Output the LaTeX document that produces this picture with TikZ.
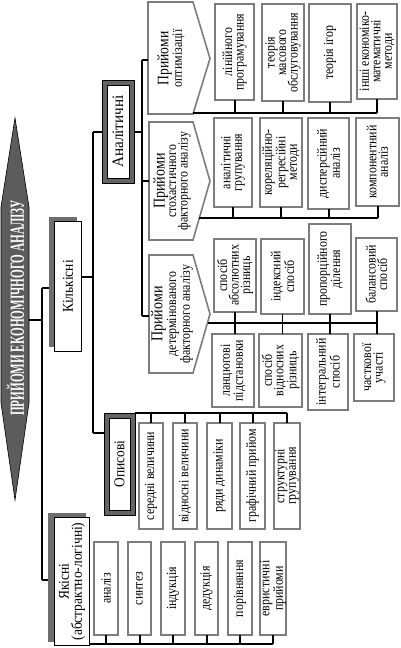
\documentclass[tikz,border=0pt]{standalone}
\usepackage{fontspec}
\setmainfont{Liberation Serif}
\definecolor{bgray}{RGB}{125,125,125}
\definecolor{fgray}{RGB}{100,100,100}
\definecolor{sgray}{RGB}{110,110,110}
\definecolor{tgray}{RGB}{92,92,92}
\newcommand{\mkbox}[7][]{%
 \pgfmathsetmacro{\mbcx}{(#3+#5)/2}%
 \pgfmathsetmacro{\mbcy}{(#4+#6)/2}%
 \pgfmathsetmacro{\mbw}{#5-#3-1.8}%
 \pgfmathsetmacro{\mbh}{#6-#4-1.8}%
 \node[gb, minimum width=\mbw pt, minimum height=\mbh pt] (#2) at (\mbcx,\mbcy) {};%
 \node[txt,#1] (#2t) at (#2.center) {#7};%
}
\begin{document}
\begin{tikzpicture}[x=1pt,y=-1pt,
 gb/.style={draw=bgray, line width=1.8pt, fill=white, inner sep=0pt, outer sep=0pt},
 ab/.style={draw=bgray, line width=1.6pt, fill=white, line join=miter},
 txt/.style={rotate=90, xscale=0.85, align=center, inner sep=0pt, font=\fontsize{14}{11.5}\selectfont},
 htxt/.style={rotate=90, xscale=0.9, align=center, inner sep=0pt, font=\fontsize{15}{13}\selectfont},
 ttl/.style={rotate=90, xscale=0.56, inner sep=0pt, text=white, font=\bfseries\fontsize{20}{20}\selectfont},
 cn/.style={line width=1.2pt},
 ck/.style={line width=2pt},
 ]
\useasboundingbox (0,0) rectangle (401,648);
\fill[white] (0,0) rectangle (401,648);

% title
\filldraw[fill=tgray, draw=black, line width=0.6pt] (15,118) -- (29,207) -- (29,403) -- (15,500) -- (1,403) -- (1,207) -- cycle;
\node[ttl] (title) at (15.5,308) {ПРИЙОМИ ЕКОНОМІЧНОГО АНАЛІЗУ};
\coordinate (titleR) at (29,320);
\coordinate (j1) at (42,320);
\coordinate (v1t) at (42,288);
\coordinate (v1b) at (42,580);

% Кількісні
\node[fill=sgray, minimum width=28pt, minimum height=130pt, inner sep=0pt, outer sep=0pt] (kils) at (63,282) {};
\node[fill=white, draw=black, line width=1.2pt, minimum width=26.8pt, minimum height=129.8pt, inner sep=0pt, outer sep=0pt] (kil) at (68,286.5) {};
\node[htxt] (kilt) at (kil.center) {Кількісні};

% Якісні
\node[fill=sgray, minimum width=38pt, minimum height=129pt, inner sep=0pt, outer sep=0pt] (yaks) at (67,577.5) {};
\node[fill=white, draw=black, line width=1.2pt, minimum width=34.8pt, minimum height=127.8pt, inner sep=0pt, outer sep=0pt] (yak) at (72,581.5) {};
\node[htxt] (yakt) at (yak.center) {Якісні\\(абстрактно-логічні)};

\draw[ck] (titleR) -- (j1);
\draw[cn] (v1t) -- (v1b);
\draw[cn] (v1t) -- (v1t -| kils.west);
\draw[cn] (v1b) -- (v1b -| yaks.west);

% Аналітичні
\node[fill=fgray, draw=black, line width=0.8pt, minimum width=32pt, minimum height=103pt, inner sep=0pt, outer sep=0pt] (anal) at (118,131.5) {};
\node[fill=white, draw=black, line width=0.8pt, minimum width=22pt, minimum height=93pt, inner sep=0pt] (anali) at (118,131.5) {};
\node[htxt, font=\fontsize{16}{13}\selectfont, xscale=1.05] (analt) at (anal.center) {Аналітичні};

% Описові
\node[fill=fgray, draw=black, line width=0.8pt, minimum width=31pt, minimum height=102pt, inner sep=0pt, outer sep=0pt] (opys) at (119.5,464) {};
\node[fill=white, draw=black, line width=0.8pt, minimum width=21pt, minimum height=92pt, inner sep=0pt] (opysi) at (119.5,464) {};
\node[htxt] (opyst) at (opys.center) {Описові};

\coordinate (k2) at (93,277);
\coordinate (v2t) at (93,132);
\coordinate (v2b) at (93,433);
\draw[ck] (k2 -| kil.east) -- (k2);
\draw[line width=1.5pt] (v2t) -- (v2b);
\draw[cn] (v2t) -- (v2t -| anal.west);
\draw[cn] (v2b) -- (v2b -| opys.west);

% arrow boxes
\coordinate (oNW) at (148,2);  \coordinate (oNE) at (193,2);  \coordinate (oP) at (210,58.5); \coordinate (oSE) at (193,114); \coordinate (oSW) at (148,114);
\coordinate (sNW) at (149,122); \coordinate (sNE) at (193,122); \coordinate (sP) at (210,181); \coordinate (sSE) at (193,240); \coordinate (sSW) at (149,240);
\coordinate (dNW) at (149,255); \coordinate (dNE) at (193,255); \coordinate (dP) at (210,314); \coordinate (dSE) at (193,373); \coordinate (dSW) at (149,373);
\draw[ab] (oNW) -- (oNE) -- (oP) -- (oSE) -- (oSW) -- cycle;
\draw[ab] (sNW) -- (sNE) -- (sP) -- (sSE) -- (sSW) -- cycle;
\draw[ab] (dNW) -- (dNE) -- (dP) -- (dSE) -- (dSW) -- cycle;
\node[txt] (optt) at (171,58.5) {{\fontsize{16}{13}\selectfont Прийоми}\\оптимізації};
\node[txt] (stot) at (172,181) {{\fontsize{16.5}{13}\selectfont Прийоми}\\стохастичного\\факторного аналізу};
\node[txt] (dett) at (172,314) {{\fontsize{16.5}{13}\selectfont Прийоми}\\детермінованого\\факторного аналізу};

\coordinate (a2) at (142,132);
\coordinate (v3t) at (142,60);
\coordinate (v3m) at (142,181);
\coordinate (v3b) at (142,316);
\draw[cn] (anal.east |- a2) -- (a2);
\draw[ck] (v3t) -- (v3b);
\draw[ck] (v3t) -- (v3t -| oSW);
\draw[ck] (v3m) -- (v3m -| sSW);
\draw[ck] (v3b) -- (v3b -| dSW);

% row 1
\mkbox{r1a}{214}{3}{255}{101}{лінійного\\програмування}
\mkbox{r1b}{261}{3}{305}{102}{теорія\\масового\\обслуговування}
\mkbox{r1c}{308}{3}{352}{103}{теорія ігор}
\mkbox{r1d}{356}{3}{398}{100}{інші економіко-\\математичні\\методи}
\coordinate (b1E) at (377,113);
\draw[line width=1.6pt] (oSE |- b1E) -- (b1E);
\draw[ck] (r1a.south) -- (r1a.south |- b1E);
\draw[ck] (r1b.south) -- (r1b.south |- b1E);
\draw[cn] (r1c.south) -- (r1c.south |- b1E);
\draw[cn] (r1d.south) -- (r1d.south |- b1E);

% row 2
\mkbox{r2a}{213}{117}{253}{208}{аналітичні\\групування}
\mkbox{r2b}{259}{117}{303}{208}{кореляційно-\\регресійні\\методи}
\mkbox{r2c}{307}{117}{350}{210}{дисперсійний\\аналіз}
\mkbox{r2d}{355}{117}{400}{207}{компонентний\\аналіз}
\coordinate (b2W) at (199.3,218);
\coordinate (b2E) at (378,218);
\draw[cn] (b2W) -- (b2E);
\draw[cn] (r2a.south) -- (r2a.south |- b2E);
\draw[cn] (r2b.south) -- (r2b.south |- b2E);
\draw[ck] (r2c.south) -- (r2c.south |- b2E);
\draw[ck] (r2d.south) -- (r2d.south |- b2E);

% row 3
\mkbox{r3a}{213}{238}{257}{313}{спосіб\\абсолютних\\різниць}
\mkbox{r3b}{260}{238}{305}{315}{індексний\\спосіб}
\mkbox{r3c}{308}{223}{352}{315}{пропорційного\\ділення}
\mkbox{r3d}{355}{237}{398}{312}{балансовий\\спосіб}
\mkbox{r4a}{211}{333}{255}{408}{ланцюгові\\підстановки}
\mkbox{r4b}{258}{333}{303}{408}{спосіб\\відносних\\різниць}
\mkbox{r4c}{307}{333}{349}{411}{інтегральний\\спосіб}
\mkbox{r4d}{353}{333}{395}{402}{часткової\\участі}
\coordinate (b3W) at (207.5,323);
\coordinate (b3E) at (377,323);
\draw[ck] (b3W) -- (b3E);
\draw[cn] (r3a.south) -- (r3a.south |- r4a.north);
\draw[cn] (r3b.south) -- (r3b.south |- r4b.north);
\draw[ck] (r3c.south) -- (r3c.south |- r4c.north);
\draw[ck] (r3d.south) -- (r3d.south |- r4d.north);

% descriptive
\mkbox{d1}{138}{422}{164}{530}{середні величини}
\mkbox{d2}{172}{422}{198}{530}{відносні величини}
\mkbox{d3}{206}{422}{233}{530}{ряди динаміки}
\mkbox{d4}{239}{422}{266}{530}{графічний прийом}
\mkbox{d5}{273}{422}{301}{530}{структурні\\групування}
\coordinate (bdE) at (287,413);
\draw[cn] (opys.north east) -- (bdE);
\foreach \n in {d1,d2,d3,d4,d5} {\draw[ck] (\n.north) -- (\n.north |- bdE);}

% qualitative
\mkbox{q1}{93}{541}{119}{636}{аналіз}
\mkbox{q2}{127}{541}{152}{636}{синтез}
\mkbox{q3}{160}{541}{186}{636}{індукція}
\mkbox{q4}{194}{541}{219}{636}{дедукція}
\mkbox{q5}{227}{541}{253}{636}{порівняння}
\mkbox{q6}{259}{541}{287}{636}{евристичні\\прийоми}
\coordinate (bqE) at (273,644);
\draw[line width=1.6pt] (bqE -| yak.east) -- (bqE);
\foreach \n in {q1,q2,q3,q4,q5,q6} {\draw[ck] (\n.south) -- (\n.south |- bqE);}
\end{tikzpicture}
\end{document}
